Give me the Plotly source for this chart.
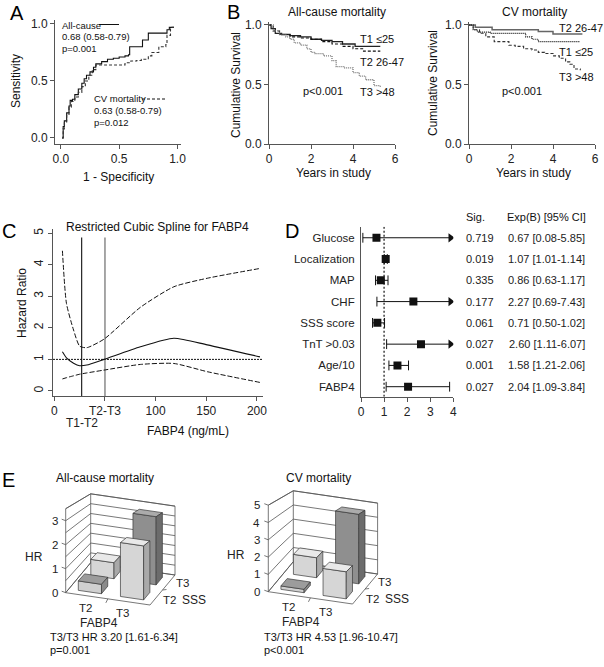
import plotly.graph_objects as go

W, H = 604, 667
FONT = "Liberation Sans"

# ---------------- DATA ----------------
# A: ROC curves
roc_all_fpr = [0.01, 0.02, 0.03, 0.05, 0.07, 0.08, 0.10, 0.12, 0.15, 0.18, 0.20, 0.22, 0.25, 0.28, 0.30,
               0.35, 0.40, 0.45, 0.50, 0.55, 0.58, 0.59, 0.68, 0.70, 0.75, 0.90, 0.91, 0.93, 0.97]
roc_all_tpr = [0.00, 0.10, 0.15, 0.22, 0.28, 0.33, 0.34, 0.38, 0.43, 0.48, 0.52, 0.55, 0.58, 0.62, 0.65,
               0.67, 0.69, 0.70, 0.71, 0.72, 0.73, 0.80, 0.80, 0.86, 0.92, 0.92, 0.95, 0.97, 0.97]
roc_cv_fpr = [0.01, 0.02, 0.03, 0.05, 0.07, 0.09, 0.12, 0.15, 0.18, 0.21, 0.24, 0.27, 0.30, 0.40, 0.50,
              0.55, 0.60, 0.65, 0.69, 0.75, 0.78, 0.84, 0.90, 0.91, 0.94, 0.97]
roc_cv_tpr = [0.00, 0.08, 0.14, 0.20, 0.27, 0.32, 0.36, 0.40, 0.45, 0.50, 0.55, 0.60, 0.64, 0.64, 0.64,
              0.66, 0.675, 0.68, 0.69, 0.72, 0.75, 0.80, 0.82, 0.90, 0.97, 0.97]

# B: Kaplan-Meier, all-cause
ac_t1_t = [0, 0.1, 0.3, 0.6, 1.0, 1.5, 2.0, 2.5, 3.0, 3.5, 4.1, 5.3]
ac_t1_s = [1.0, 0.97, 0.93, 0.92, 0.91, 0.90, 0.88, 0.87, 0.86, 0.84, 0.82, 0.82]
ac_t2_t = [0, 0.2, 0.5, 1.0, 1.5, 2.0, 2.5, 3.0, 3.5, 4.0, 4.5, 5.3]
ac_t2_s = [1.0, 0.95, 0.92, 0.90, 0.89, 0.88, 0.86, 0.84, 0.82, 0.80, 0.78, 0.78]
ac_t3_t = [0, 0.2, 0.5, 0.8, 1.0, 1.2, 1.5, 1.8, 2.0, 2.2, 2.6, 3.0, 3.2, 3.6, 4.0, 4.3, 4.6, 5.0, 5.3]
ac_t3_s = [1.0, 0.95, 0.92, 0.90, 0.88, 0.85, 0.83, 0.80, 0.77, 0.76, 0.74, 0.70, 0.65, 0.64, 0.60,
           0.57, 0.54, 0.49, 0.48]
# B: Kaplan-Meier, CV
cv_t1_t = [0, 0.2, 0.4, 1.0, 2.5, 2.7, 3.0, 3.3, 5.3]
cv_t1_s = [1.0, 0.96, 0.94, 0.93, 0.93, 0.90, 0.88, 0.86, 0.86]
cv_t2_t = [0, 0.3, 1.1, 2.0, 3.3, 4.0, 5.4]
cv_t2_s = [1.0, 0.98, 0.96, 0.96, 0.945, 0.925, 0.925]
cv_t3_t = [0, 0.2, 0.5, 0.8, 1.2, 1.9, 2.2, 2.6, 3.0, 3.3, 3.6, 4.0, 4.3, 4.6, 4.8, 5.0, 5.3]
cv_t3_s = [1.0, 0.96, 0.93, 0.90, 0.86, 0.83, 0.82, 0.80, 0.79, 0.77, 0.76, 0.74, 0.72, 0.69, 0.67,
           0.63, 0.62]

# C: restricted cubic spline
rcs_x = [8, 12, 19, 25, 32, 49, 85, 118, 151, 203]
rcs_hr = [1.24, 1.05, 0.88, 0.80, 0.82, 1.00, 1.40, 1.67, 1.46, 1.08]
rcs_up = [4.44, 2.77, 1.93, 1.42, 1.37, 1.64, 2.65, 3.30, 3.57, 3.88]
rcs_lo = [0.38, 0.42, 0.48, 0.53, 0.57, 0.66, 0.84, 0.87, 0.61, 0.27]
cut_t1t2 = 27
cut_t2t3 = 50

# D: forest plot
forest_labels = ["Glucose", "Localization", "MAP", "CHF", "SSS score", "TnT >0.03", "Age/10", "FABP4"]
forest_or = [0.67, 1.07, 0.86, 2.27, 0.71, 2.60, 1.58, 2.04]
forest_lo = [0.08, 1.01, 0.63, 0.69, 0.50, 1.11, 1.21, 1.09]
forest_hi = [5.85, 1.14, 1.17, 7.43, 1.02, 6.07, 2.06, 3.84]
forest_sig = ["0.719", "0.019", "0.335", "0.177", "0.061", "0.027", "0.001", "0.027"]

# E: 3D bars, HR[fabp4 index][sss index]
tier_labels = ["T2", "T3"]
hr_all = [[0.40, 0.75], [2.30, 3.20]]
hr_cv = [[0.20, 1.30], [1.60, 4.53]]

# ---------------- HELPERS ----------------
fig = go.Figure()
annotations = []
shapes = []


def xd(a, b):
    return [a / W, b / W]


def yd(top, bot):
    return [1 - bot / H, 1 - top / H]


def note(x, y, text, size=11, xanchor="center", yanchor="middle", angle=0, color="#111", family=FONT):
    annotations.append(dict(x=x / W, y=1 - y / H, xref="paper", yref="paper", text=text, showarrow=False,
                            xanchor=xanchor, yanchor=yanchor, textangle=angle,
                            font=dict(size=size, color=color, family=family)))


def hline_paper(x0, x1, y, dash="solid", color="#111", width=1):
    shapes.append(dict(type="line", xref="paper", yref="paper", x0=x0 / W, x1=x1 / W, y0=1 - y / H,
                       y1=1 - y / H, line=dict(color=color, width=width, dash=dash)))


AX = dict(showline=True, linecolor="#555", linewidth=1, ticks="outside", ticklen=4, tickcolor="#555",
          showgrid=False, zeroline=False, tickfont=dict(size=12, family=FONT, color="#222"), fixedrange=True,
          automargin=False)

# ---------------- PANEL A ----------------
fig.add_trace(go.Scatter(x=roc_all_fpr, y=roc_all_tpr, mode="lines", xaxis="x", yaxis="y",
                         line=dict(color="#111", width=1.1, shape="hv")))
fig.add_trace(go.Scatter(x=roc_cv_fpr, y=roc_cv_tpr, mode="lines", xaxis="x", yaxis="y",
                         line=dict(color="#333", width=1.1, shape="hv", dash="3px,2px")))
layout = dict(
    xaxis=dict(AX, domain=xd(55, 181), range=[-0.05, 1.03], tickvals=[0, 0.5, 1.0], tickformat=".1f", anchor="y"),
    yaxis=dict(AX, domain=yd(20, 144), range=[-0.053, 1.035], tickvals=[0, 0.5, 1.0], tickformat=".1f", anchor="x"),
)
note(17, 13, "A", size=20, color="#000")
note(16, 81, "Sensitivity", size=12, angle=-90)
note(118, 177, "1 - Specificity", size=12)
note(60, 25, "All-cause", size=9.5, xanchor="left")
hline_paper(99, 119, 24.5)
note(60, 37, "0.68 (0.58-0.79)", size=9.5, xanchor="left")
note(60, 48.5, "p=0.001", size=9.5, xanchor="left")
note(92, 99, "CV mortality", size=9.5, xanchor="left")
hline_paper(142, 165, 99, dash="3px,2px")
note(92, 110.5, "0.63 (0.58-0.79)", size=9.5, xanchor="left")
note(92, 122, "p=0.012", size=9.5, xanchor="left")

# ---------------- PANEL B ----------------
km_sets = [
    ("x2", "y2", [(ac_t1_t, ac_t1_s, "#222", "solid", 1.3), (ac_t2_t, ac_t2_s, "#111", "3px,2px", 1.1),
                  (ac_t3_t, ac_t3_s, "#777", "1px,1px", 1.3)]),
    ("x3", "y3", [(cv_t2_t, cv_t2_s, "#666", "solid", 1.5), (cv_t1_t, cv_t1_s, "#111", "1px,1px", 1.2),
                  (cv_t3_t, cv_t3_s, "#333", "3px,2px", 1.1)]),
]
for xa, ya, curves in km_sets:
    for t, s, col, dash, wdt in curves:
        fig.add_trace(go.Scatter(x=t, y=s, mode="lines", xaxis=xa, yaxis=ya,
                                 line=dict(color=col, width=wdt, dash=dash, shape="hv")))
for i, (x0, x1) in enumerate([(269, 395), (469, 595)]):
    k = i + 2
    layout[f"xaxis{k}"] = dict(AX, domain=xd(x0, x1), range=[0, 6], tickvals=[0, 2, 4, 6], anchor=f"y{k}")
    layout[f"yaxis{k}"] = dict(AX, domain=yd(22, 144), range=[0, 1.025], tickvals=[0, 0.5, 1.0],
                               tickformat=".1f", anchor=f"x{k}")
note(233, 11.5, "B", size=20, color="#000")
note(337, 12, "All-cause mortality", size=12)
note(236, 85, "Cumulative Survival", size=12, angle=-90)
note(333, 173, "Years in study", size=12)
note(358, 39, "T1 \u226425", size=11, xanchor="left")
note(358, 62, "T2 26-47", size=11, xanchor="left")
note(358, 92, "T3 >48", size=11, xanchor="left")
note(323, 91, "p<0.001", size=11)
note(534, 12, "CV mortality", size=12)
note(433, 83, "Cumulative Survival", size=12, angle=-90)
note(533, 173, "Years in study", size=12)
note(557, 28, "T2 26-47", size=11, xanchor="left")
note(557, 52, "T1 \u226425", size=11, xanchor="left")
note(557, 77, "T3 >48", size=11, xanchor="left")
note(522, 91, "p<0.001", size=11)

# ---------------- PANEL C ----------------
fig.add_trace(go.Scatter(x=[-1.3, 206], y=[1, 1], mode="lines", xaxis="x4", yaxis="y4",
                         line=dict(color="#111", width=1, dash="2px,1px")))
fig.add_trace(go.Scatter(x=[cut_t1t2, cut_t1t2], y=[-0.16, 4.86], mode="lines", xaxis="x4", yaxis="y4",
                         line=dict(color="#111", width=1.1)))
fig.add_trace(go.Scatter(x=[cut_t2t3, cut_t2t3], y=[-0.16, 4.86], mode="lines", xaxis="x4", yaxis="y4",
                         line=dict(color="#777", width=1.3)))
fig.add_trace(go.Scatter(x=rcs_x, y=rcs_up, mode="lines", xaxis="x4", yaxis="y4",
                         line=dict(color="#111", width=1, dash="5px,2px", shape="spline", smoothing=0.6)))
fig.add_trace(go.Scatter(x=rcs_x, y=rcs_lo, mode="lines", xaxis="x4", yaxis="y4",
                         line=dict(color="#111", width=1, dash="5px,2px", shape="spline", smoothing=0.6)))
fig.add_trace(go.Scatter(x=rcs_x, y=rcs_hr, mode="lines", xaxis="x4", yaxis="y4",
                         line=dict(color="#111", width=1.1, shape="spline", smoothing=0.6)))
layout["xaxis4"] = dict(AX, domain=xd(53, 263), range=[-1.3, 206], tickvals=[0, 50, 100, 150, 200],
                        ticktext=["0", "T2-T3", "100", "150", "200"], anchor="y4")
layout["yaxis4"] = dict(AX, domain=yd(229, 396), range=[-0.16, 5.13], tickvals=[0, 1, 2, 3, 4, 5],
                        tickangle=-90, anchor="x4")
note(9, 231, "C", size=20, color="#000")
note(157, 227, "Restricted Cubic Spline for FABP4", size=12)
note(22, 303, "Hazard Ratio", size=12, angle=-90)
note(188, 431, "FABP4 (ng/mL)", size=12)
annotations.append(dict(x=cut_t1t2, y=1 - 423 / H, xref="x4", yref="paper", text="T1-T2", showarrow=False,
                        font=dict(size=12, family=FONT, color="#222")))

# ---------------- PANEL D ----------------
rows = list(range(len(forest_labels)))
XMAX = 4.0
seg_x, seg_y, cap_x, cap_y, arr_y = [], [], [], [], []
for i in rows:
    seg_x += [forest_lo[i], min(forest_hi[i], XMAX), None]
    seg_y += [i, i, None]
    cap_x.append(forest_lo[i]); cap_y.append(i)
    if forest_hi[i] <= XMAX:
        cap_x.append(forest_hi[i]); cap_y.append(i)
    else:
        arr_y.append(i)
fig.add_trace(go.Scatter(x=[1, 1], y=[-0.52, 7.47], mode="lines", xaxis="x5", yaxis="y5",
                         line=dict(color="#111", width=1.2, dash="2px,2px")))
fig.add_trace(go.Scatter(x=seg_x, y=seg_y, mode="lines", xaxis="x5", yaxis="y5",
                         line=dict(color="#111", width=1)))
fig.add_trace(go.Scatter(x=cap_x, y=cap_y, mode="markers", xaxis="x5", yaxis="y5",
                         marker=dict(symbol="line-ns", size=7, line=dict(color="#111", width=1))))
fig.add_trace(go.Scatter(x=[XMAX - 0.12] * len(arr_y), y=arr_y, mode="markers", xaxis="x5", yaxis="y5",
                         marker=dict(symbol="triangle-right", size=8, color="#111")))
fig.add_trace(go.Scatter(x=forest_or, y=rows, mode="markers", xaxis="x5", yaxis="y5",
                         marker=dict(symbol="square", size=8, color="#111")))
layout["xaxis5"] = dict(AX, domain=xd(361, 453.3), range=[0, XMAX], tickvals=[0, 1, 2, 3, 4], anchor="y5")
layout["yaxis5"] = dict(AX, domain=yd(226.7, 396.7), range=[7.47, -0.52], tickvals=rows,
                        ticktext=forest_labels, ticks="", ticklabelstandoff=3, anchor="x5",
                        tickfont=dict(size=11.5, family=FONT, color="#222"))
note(292, 231, "D", size=20, color="#000")
note(464, 217, "Sig.", size=11, xanchor="left")
note(505, 217, "Exp(B) [95% CI]", size=11, xanchor="left")
for i in rows:
    annotations.append(dict(x=464 / W, y=i, xref="paper", yref="y5", text=forest_sig[i], showarrow=False,
                            xanchor="left", font=dict(size=11, family=FONT, color="#222")))
    txt = f"{forest_or[i]:.2f} [{forest_lo[i]:.2f}-{forest_hi[i]:.2f}]"
    annotations.append(dict(x=587 / W, y=i, xref="paper", yref="y5", text=txt, showarrow=False,
                            xanchor="right", font=dict(size=11, family=FONT, color="#222")))

# ---------------- PANEL E (oblique 3D bars with mild depth foreshortening) ----------------
UX, UY = 42.15, -6.15   # projection of one FABP4 slot
VX, VY = 12.5, 15.0     # projection of one SSS slot
PERSP = 0.09            # height shrink per depth slot
BW, BD = 0.55, 0.5      # bar width / depth in slots
LIGHT = ("#d6d6d6", "#e9e9e9", "#a9a9a9")
DARK = ("#8f8f8f", "#ababab", "#6c6c6c")
MED = ("#d0d0d0", "#9c9c9c", "#8a8a8a")


def proj(u, v, z, zs):
    return u * UX + v * VX, z * zs * (1 - PERSP * v) + u * UY + v * VY


def draw_3d(k, hr, zs, zmax, zgrid, zticks, colors, origin, dom_x, dom_y):
    xa, ya = f"x{k}", f"y{k}"
    ox, oy = origin
    nu, nv = len(hr), len(hr[0])
    lx, ly = [], []

    def seg(pts):
        for (u, v, z) in pts:
            X, Y = proj(u, v, z, zs)
            lx.append(X); ly.append(Y)
        lx.append(None); ly.append(None)

    for z in zgrid:
        seg([(0, 0, z), (0, nv, z), (nu, nv, z)])
    seg([(0, 0, 0), (0, 0, zmax)])
    seg([(0, nv, 0), (0, nv, zmax)])
    seg([(nu, nv, 0), (nu, nv, zmax)])
    seg([(0, 0, zmax), (0, nv, zmax), (nu, nv, zmax)])
    seg([(0, 0, 0), (0, nv, 0), (nu, nv, 0)])
    seg([(0, 0, 0), (nu, 0, 0), (nu, nv, 0)])
    fig.add_trace(go.Scatter(x=lx, y=ly, mode="lines", xaxis=xa, yaxis=ya,
                             line=dict(color="#555", width=0.8)))
    tx, ty = [], []
    for z in zticks:
        X, Y = proj(0, 0, z, zs)
        tx += [X - 4, X, None]; ty += [Y + 1.5, Y, None]
    for u in range(1, nu):
        X, Y = proj(u, 0, 0, zs)
        tx += [X, X - 2, None]; ty += [Y, Y - 4, None]
    for v in range(1, nv):
        X, Y = proj(nu, v, 0, zs)
        tx += [X, X + 4, None]; ty += [Y, Y + 0.5, None]
    fig.add_trace(go.Scatter(x=tx, y=ty, mode="lines", xaxis=xa, yaxis=ya,
                             line=dict(color="#555", width=0.8)))
    for j in reversed(range(nv)):
        for i in range(nu):
            h = hr[i][j]
            u0, u1 = i + 0.5 - BW / 2, i + 0.5 + BW / 2
            v0, v1 = j + 0.5 - BD / 2, j + 0.5 + BD / 2
            faces = [
                [(u0, v0, 0), (u1, v0, 0), (u1, v0, h), (u0, v0, h)],
                [(u0, v0, h), (u1, v0, h), (u1, v1, h), (u0, v1, h)],
                [(u1, v0, 0), (u1, v1, 0), (u1, v1, h), (u1, v0, h)],
            ]
            for f, col in zip(faces, colors[i][j]):
                P = [proj(*p, zs) for p in f] + [proj(*f[0], zs)]
                fig.add_trace(go.Scatter(x=[p[0] for p in P], y=[p[1] for p in P], mode="lines",
                                         fill="toself", fillcolor=col, xaxis=xa, yaxis=ya,
                                         line=dict(color="#3a3a3a", width=0.7)))
    layout[f"xaxis{k}"] = dict(domain=xd(*dom_x), range=[dom_x[0] - ox, dom_x[1] - ox], visible=False,
                               anchor=ya, fixedrange=True, automargin=False)
    layout[f"yaxis{k}"] = dict(domain=yd(*dom_y), range=[oy - dom_y[1], oy - dom_y[0]], visible=False,
                               anchor=xa, fixedrange=True, automargin=False)

    def lab(u, v, z, text, dxs=0, dys=0, xanchor="center", size=11.5):
        X, Y = proj(u, v, z, zs)
        annotations.append(dict(x=X, y=Y, xref=xa, yref=ya, text=text, showarrow=False, xshift=dxs,
                                yshift=dys, xanchor=xanchor, font=dict(size=size, family=FONT, color="#222")))

    for z in zticks:
        lab(0, 0, z, str(z), dxs=-6, xanchor="right")
    lab(0.5, 0, 0, tier_labels[0], dxs=-1, dys=-12)
    lab(1.5, 0, 0, tier_labels[1], dxs=-6, dys=-11)
    lab(1, 0, 0, "FABP4", dxs=-9, dys=-24, size=12)
    lab(nu, 0.5, 0, tier_labels[0], dxs=5, dys=-2, xanchor="left")
    lab(nu, 1.5, 0, tier_labels[1], dxs=5, dys=0, xanchor="left")
    lab(nu, 0.5, 0, "SSS", dxs=24, dys=-2, xanchor="left", size=12)
    lab(0, 0, zmax * 0.42, "HR", dxs=-32, size=12)


draw_3d(6, hr_all, 24.0, 3.5, [0.5 * g for g in range(8)], [0, 1, 2, 3],
        [[MED, LIGHT], [LIGHT, DARK]], (65.7, 592.7), (0, 215), (470, 630))
draw_3d(7, hr_cv, 17.3, 5.0, [0, 1, 2, 3, 4, 5], [0, 1, 2, 3, 4, 5],
        [[MED, LIGHT], [LIGHT, DARK]], (268.3, 591.7), (218, 440), (470, 630))
note(8, 480, "E", size=20, color="#000")
note(105, 478, "All-cause mortality", size=12)
note(318, 478, "CV mortality", size=12)
note(48, 637, "T3/T3 HR 3.20 [1.61-6.34]", size=11, xanchor="left")
note(48, 650, "p=0.001", size=11, xanchor="left")
note(262, 637, "T3/T3 HR 4.53 [1.96-10.47]", size=11, xanchor="left")
note(262, 650, "p<0.001", size=11, xanchor="left")

fig.update_layout(width=W, height=H, margin=dict(l=0, r=0, t=0, b=0), showlegend=False,
                  paper_bgcolor="white", plot_bgcolor="rgba(0,0,0,0)",
                  font=dict(family=FONT, size=11, color="#222"),
                  annotations=annotations, shapes=shapes, **layout)
fig.write_html("out.html", config={"displayModeBar": False},
               post_script="document.body.style.margin='0px';document.body.style.overflow='hidden';")
